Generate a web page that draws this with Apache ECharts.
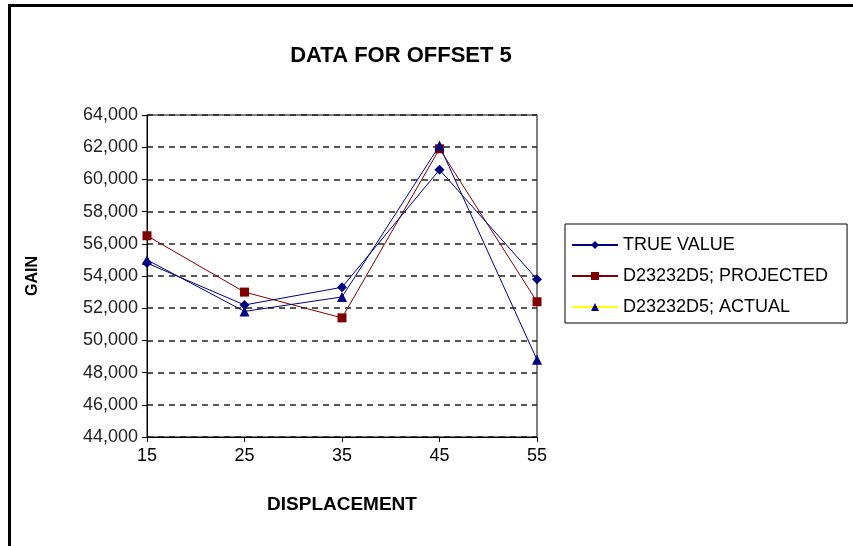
<!DOCTYPE html>
<html>
<head>
<meta charset="utf-8">
<script src="https://cdn.jsdelivr.net/npm/echarts@6/dist/echarts.min.js"></script>
<style>
  html, body { margin: 0; padding: 0; background: #fff; }
  #chart { width: 853px; height: 546px; }
</style>
</head>
<body>
<div id="chart"></div>
<script>
// Displacement steps along the x axis
const displacement = ['15', '25', '35', '45', '55'];

// Gain readings per series
const trueValue = [54800, 52200, 53300, 60600, 53800];
const projected = [56500, 53000, 51400, 61900, 52400];
const actual = [55000, 51800, 52700, 62100, 48800];

const seriesNames = ['TRUE VALUE', 'D23232D5; PROJECTED', 'D23232D5; ACTUAL'];

const yMin = 44000, yMax = 64000, yStep = 2000;

const chart = echarts.init(document.getElementById('chart'));

const FONT = '"Liberation Sans", Arial, sans-serif';

const navy = '#000080';
const maroon = '#800000';

chart.setOption({
  animation: false,
  backgroundColor: '#ffffff',
  title: {
    text: 'DATA FOR OFFSET 5',
    left: 396,
    top: 40,
    textAlign: 'center',
    textStyle: { fontFamily: FONT, fontWeight: 'bold', fontSize: 22, color: '#000' }
  },
  legend: {
    orient: 'vertical',
    left: 565,
    top: 224,
    padding: [12, 19, 7, 6],
    itemGap: 13,
    itemWidth: 46,
    itemHeight: 10,
    borderColor: '#000',
    borderWidth: 1,
    textStyle: { fontFamily: FONT, fontSize: 18, color: '#000' },
    data: [
      { name: seriesNames[0] },
      { name: seriesNames[1] },
      { name: seriesNames[2], lineStyle: { color: '#ffff00' } }
    ]
  },
  grid: {
    left: 147,
    right: 316,
    top: 115,
    bottom: 109,
    show: true,
    borderColor: '#000',
    borderWidth: 1
  },
  xAxis: {
    type: 'category',
    data: displacement,
    boundaryGap: false,
    name: 'DISPLACEMENT',
    nameLocation: 'middle',
    nameGap: 58,
    nameTextStyle: { fontFamily: FONT, fontWeight: 'bold', fontSize: 19, color: '#000' },
    axisLine: { lineStyle: { color: '#000', width: 1 } },
    axisTick: { show: true, length: 5, lineStyle: { color: '#000' } },
    axisLabel: { fontFamily: FONT, fontSize: 18, color: '#000', margin: 10 },
    splitLine: { show: false }
  },
  yAxis: {
    type: 'value',
    min: yMin,
    max: yMax,
    interval: yStep,
    name: 'GAIN',
    nameLocation: 'middle',
    nameGap: 106,
    nameRotate: 90,
    nameTextStyle: { fontFamily: FONT, fontWeight: 'bold', fontSize: 16, color: '#000' },
    axisLine: { show: true, lineStyle: { color: '#000', width: 1 } },
    axisTick: { show: true, length: 5, lineStyle: { color: '#000' } },
    axisLabel: {
      fontFamily: FONT,
      fontSize: 18,
      color: '#222',
      margin: 9,
      formatter: v => v.toLocaleString('en-US')
    },
    splitLine: { show: true, lineStyle: { color: '#222', type: [6, 5], width: 1.5 } }
  },
  graphic: [
    // page frame: top and left rules
    { type: 'rect', shape: { x: 8, y: 4, width: 845, height: 3 }, style: { fill: '#000' } },
    { type: 'rect', shape: { x: 8, y: 4, width: 3, height: 542 }, style: { fill: '#000' } }
  ],
  series: [
    {
      name: seriesNames[0],
      type: 'line',
      data: trueValue,
      symbol: 'diamond',
      symbolSize: 10,
      lineStyle: { color: navy, width: 1 },
      itemStyle: { color: navy },
      z: 3
    },
    {
      name: seriesNames[1],
      type: 'line',
      data: projected,
      symbol: 'rect',
      symbolSize: 9,
      lineStyle: { color: maroon, width: 1 },
      itemStyle: { color: maroon },
      z: 2
    },
    {
      name: seriesNames[2],
      type: 'line',
      data: actual,
      symbol: 'triangle',
      symbolSize: 10,
      lineStyle: { color: navy, width: 1 },
      itemStyle: { color: navy },
      z: 4
    }
  ]
});
</script>
</body>
</html>
